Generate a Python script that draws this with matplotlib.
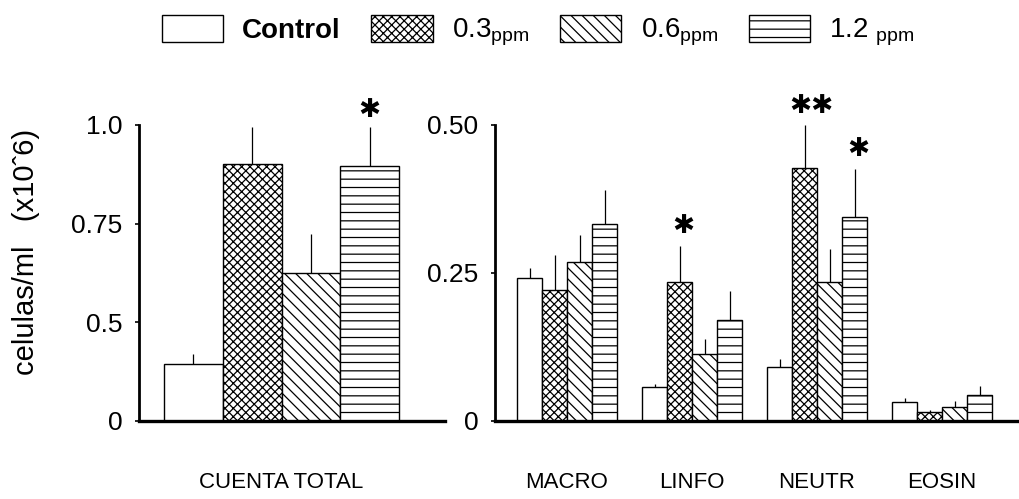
import numpy as np
import matplotlib
matplotlib.use('Agg')
import matplotlib.pyplot as plt
from matplotlib.patches import Patch

plt.rcParams['font.family'] = ['Liberation Sans', 'DejaVu Sans']
plt.rcParams['hatch.linewidth'] = 0.9

# ---- data (cells/ml x10^6) ----
groups = ["Control", "0.3 ppm", "0.6 ppm", "1.2 ppm"]
legend_labels = ["Control", r"0.3$\mathregular{_{ppm}}$", r"0.6$\mathregular{_{ppm}}$", r"1.2 $\mathregular{_{ppm}}$"]
hatches = ["", "xxxx", "\\\\\\", "--"]

total_mean = [0.29, 0.90, 0.625, 0.895]
total_sd = [0.05, 0.095, 0.10, 0.10]
total_star = ["", "", "", "✱"]

cell_types = ["MACRO", "LINFO", "NEUTR", "EOSIN"]
# rows: Control, 0.3, 0.6, 1.2 ; columns: cell types
cell_mean = [
    [0.242, 0.057, 0.091, 0.032],
    [0.221, 0.234, 0.428, 0.015],
    [0.269, 0.113, 0.234, 0.024],
    [0.332, 0.170, 0.345, 0.044],
]
cell_sd = [
    [0.017, 0.005, 0.013, 0.007],
    [0.060, 0.062, 0.072, 0.004],
    [0.046, 0.025, 0.057, 0.010],
    [0.059, 0.049, 0.081, 0.015],
]
cell_star = [
    ["", "", "", ""],
    ["", "✱", "✱✱", ""],
    ["", "", "", ""],
    ["", "", "✱", ""],
]

left_ticks = [0, 0.5, 0.75, 1.0]
left_ticklabels = ["0", "0.5", "0.75", "1.0"]
right_ticks = [0, 0.25, 0.5]
right_ticklabels = ["0", "0.25", "0.50"]

# the left axis of the original is drawn with evenly spaced ticks 0 / 0.5 / 0.75 / 1.0
knots_v = [-0.5, 0, 0.5, 0.75, 1.0, 1.25]
knots_p = [-1, 0, 1, 2, 3, 4]
def fwd(v):
    return np.interp(v, knots_v, knots_p)
def inv(p):
    return np.interp(p, knots_p, knots_v)

fig = plt.figure(figsize=(10.19, 4.99), dpi=100)
ax1 = fig.add_axes([139/1019, 78/499, 306/1019, 296/499])
ax2 = fig.add_axes([495/1019, 78/499, 524/1019, 296/499])

bar_kw = dict(facecolor='white', edgecolor='black', linewidth=1.0)
err_kw = dict(elinewidth=0.9, capsize=0, ecolor='black')
tick_font = dict(fontsize=19)
star_kw = dict(ha='center', va='center', fontsize=19, family='DejaVu Sans')

# ---- left panel: total count ----
ax1.set_yscale('function', functions=(fwd, inv))
x1 = np.arange(len(groups))
for i in range(len(groups)):
    ax1.bar(x1[i], total_mean[i], width=1.0, hatch=hatches[i],
            yerr=[[0], [total_sd[i]]], error_kw=err_kw, **bar_kw)
    if total_star[i]:
        ax1.annotate(total_star[i], (x1[i], total_mean[i] + total_sd[i]),
                     xytext=(0, 12), textcoords='offset points', **star_kw)
ax1.set_xlim(-0.924, 4.28)
ax1.set_ylim(0, 1.0)
ax1.set_yticks(left_ticks)
ax1.set_yticklabels(left_ticklabels, **tick_font)
ax1.minorticks_off()
ax1.set_xticks([1.5])
ax1.set_xticklabels(["CUENTA TOTAL"], fontsize=16)
ax1.set_ylabel("celulas/ml   (x10ˆ6)", fontsize=21)
ax1.yaxis.set_label_coords(-0.325, 0.57)

# ---- right panel: cell types ----
x2 = np.arange(len(cell_types))
w = 0.2
for i in range(len(groups)):
    xs = x2 + (i - 1.5) * w
    ax2.bar(xs, cell_mean[i], width=w, hatch=hatches[i],
            yerr=[np.zeros(len(cell_types)), cell_sd[i]], error_kw=err_kw, **bar_kw)
    for j in range(len(cell_types)):
        if cell_star[i][j]:
            ax2.annotate(cell_star[i][j], (xs[j], cell_mean[i][j] + cell_sd[i][j]),
                         xytext=(5 if len(cell_star[i][j]) > 1 else 3, 14),
                         textcoords='offset points', **star_kw)
ax2.set_xlim(-0.576, 3.616)
ax2.set_ylim(0, 0.5)
ax2.set_yticks(right_ticks)
ax2.set_yticklabels(right_ticklabels, **tick_font)
ax2.set_xticks(x2)
ax2.set_xticklabels(cell_types, fontsize=16)

for ax in (ax1, ax2):
    for s in ('top', 'right'):
        ax.spines[s].set_visible(False)
    ax.spines['left'].set_linewidth(2.0)
    ax.spines['bottom'].set_linewidth(2.4)
    ax.tick_params(axis='y', direction='out', length=3, width=1.2, pad=9)
    ax.tick_params(axis='x', length=0, pad=37)

# ---- legend ----
handles = [Patch(facecolor='white', edgecolor='black', hatch=h, linewidth=1.0) for h in hatches]
leg = fig.legend(handles, legend_labels, loc='upper center', bbox_to_anchor=(0.528, 1.02),
                 ncol=4, frameon=False, fontsize=20, handlelength=2.2, handleheight=1.1,
                 handletextpad=0.7, columnspacing=1.1)
leg.get_texts()[0].set_fontweight('bold')

fig.savefig("out.png", dpi=100)
